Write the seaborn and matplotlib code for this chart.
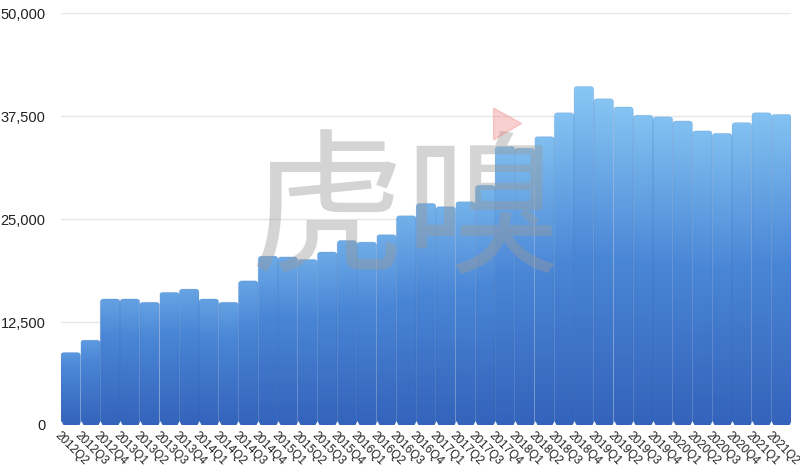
import numpy as np
import pandas as pd
import seaborn as sns
import matplotlib.pyplot as plt
from matplotlib.patches import FancyBboxPatch
from matplotlib.colors import LinearSegmentedColormap

# quarterly values
quarters = ['2012Q2', '2012Q3', '2012Q4',
            '2013Q1', '2013Q2', '2013Q3', '2013Q4',
            '2014Q1', '2014Q2', '2014Q3', '2014Q4',
            '2015Q1', '2015Q2', '2015Q3', '2015Q4',
            '2016Q1', '2016Q2', '2016Q3', '2016Q4',
            '2017Q1', '2017Q2', '2017Q3', '2017Q4',
            '2018Q1', '2018Q2', '2018Q3', '2018Q4',
            '2019Q1', '2019Q2', '2019Q3', '2019Q4',
            '2020Q1', '2020Q2', '2020Q3', '2020Q4',
            '2021Q1', '2021Q2']
values = [8800, 10300, 15300,
          15300, 14900, 16100, 16500,
          15300, 14900, 17500, 20500,
          20400, 20100, 21000, 22400,
          22200, 23100, 25400, 26900,
          26500, 27100, 29100, 33800,
          33600, 35000, 37900, 41100,
          39600, 38600, 37600, 37400,
          36900, 35700, 35400, 36700,
          37900, 37700]
yticks = [0, 12500, 25000, 37500, 50000]

df = pd.DataFrame({'quarter': quarters, 'value': values})

sns.set_style('white')
plt.rcParams['font.family'] = ['Liberation Sans', 'DejaVu Sans']

fig = plt.figure(figsize=(8, 4.66), dpi=100)
ax = fig.add_axes([0.076, 0.088, 0.913, 0.884])

sns.barplot(data=df, x='quarter', y='value', width=1.0, color='#4f8edc',
            ax=ax, zorder=2)

# gradient fill with rounded tops, one per bar
cmap = LinearSegmentedColormap.from_list('bars', ['#3463bb', '#4a86d6', '#88c7f4'])
hmax = max(values)
for p in ax.patches:
    x0, w, h = p.get_x(), p.get_width(), p.get_height()
    p.set_alpha(0)
    box = FancyBboxPatch((x0, -600), w, h + 600,
                         boxstyle='round,pad=0,rounding_size=0.17',
                         mutation_aspect=2400, facecolor='none',
                         edgecolor=(0.15, 0.35, 0.65, 0.14), lw=0.6, zorder=3)
    ax.add_patch(box)
    top = 0.55 + 0.45 * h / hmax
    grad = np.linspace(0, top, 256).reshape(-1, 1)
    im = ax.imshow(grad, extent=[x0, x0 + w, 0, h], origin='lower',
                   aspect='auto', cmap=cmap, vmin=0, vmax=1, zorder=2)
    im.set_clip_path(box)

ax.set_xlim(-0.5, len(quarters) - 0.5)
ax.set_ylim(0, 50000)

# small white triangles at the category boundaries
edges = np.arange(len(quarters) + 1) - 0.5
ax.scatter(edges, np.full(len(edges), 260), marker='^', s=12,
           color='white', zorder=4, clip_on=False, linewidths=0)

ax.set_yticks(yticks)
ax.set_yticklabels([f'{v:,}' for v in yticks], fontsize=10.5, color='#222222')
ax.yaxis.grid(True, color='#e6e6e6', lw=1)
ax.set_axisbelow(True)

ax.set_xticks(edges[:-1])
ax.set_xticklabels(quarters, rotation=-45, ha='left', va='top',
                   rotation_mode='anchor', fontsize=8.5, color='#222222')
ax.tick_params(axis='both', length=0)
ax.tick_params(axis='y', pad=11)
ax.tick_params(axis='x', pad=3)
ax.set_xlabel('')
ax.set_ylabel('')
sns.despine(ax=ax, left=True, bottom=True)

# watermark
fig.text(0.409, 0.535, '虎', fontsize=112, color='#9a9a9a', alpha=0.42,
         ha='center', va='center', family=['Noto Sans CJK SC'], zorder=10)
fig.text(0.603, 0.535, '嗅', fontsize=112, color='#9a9a9a', alpha=0.42,
         ha='center', va='center', family=['Noto Sans CJK SC'], zorder=10)
fig.patches.append(plt.Polygon([[0.617, 0.768], [0.617, 0.70], [0.652, 0.735]],
                               closed=True, transform=fig.transFigure,
                               color='#f08a8a', alpha=0.4, zorder=11))

fig.savefig('out.png', dpi=100)
